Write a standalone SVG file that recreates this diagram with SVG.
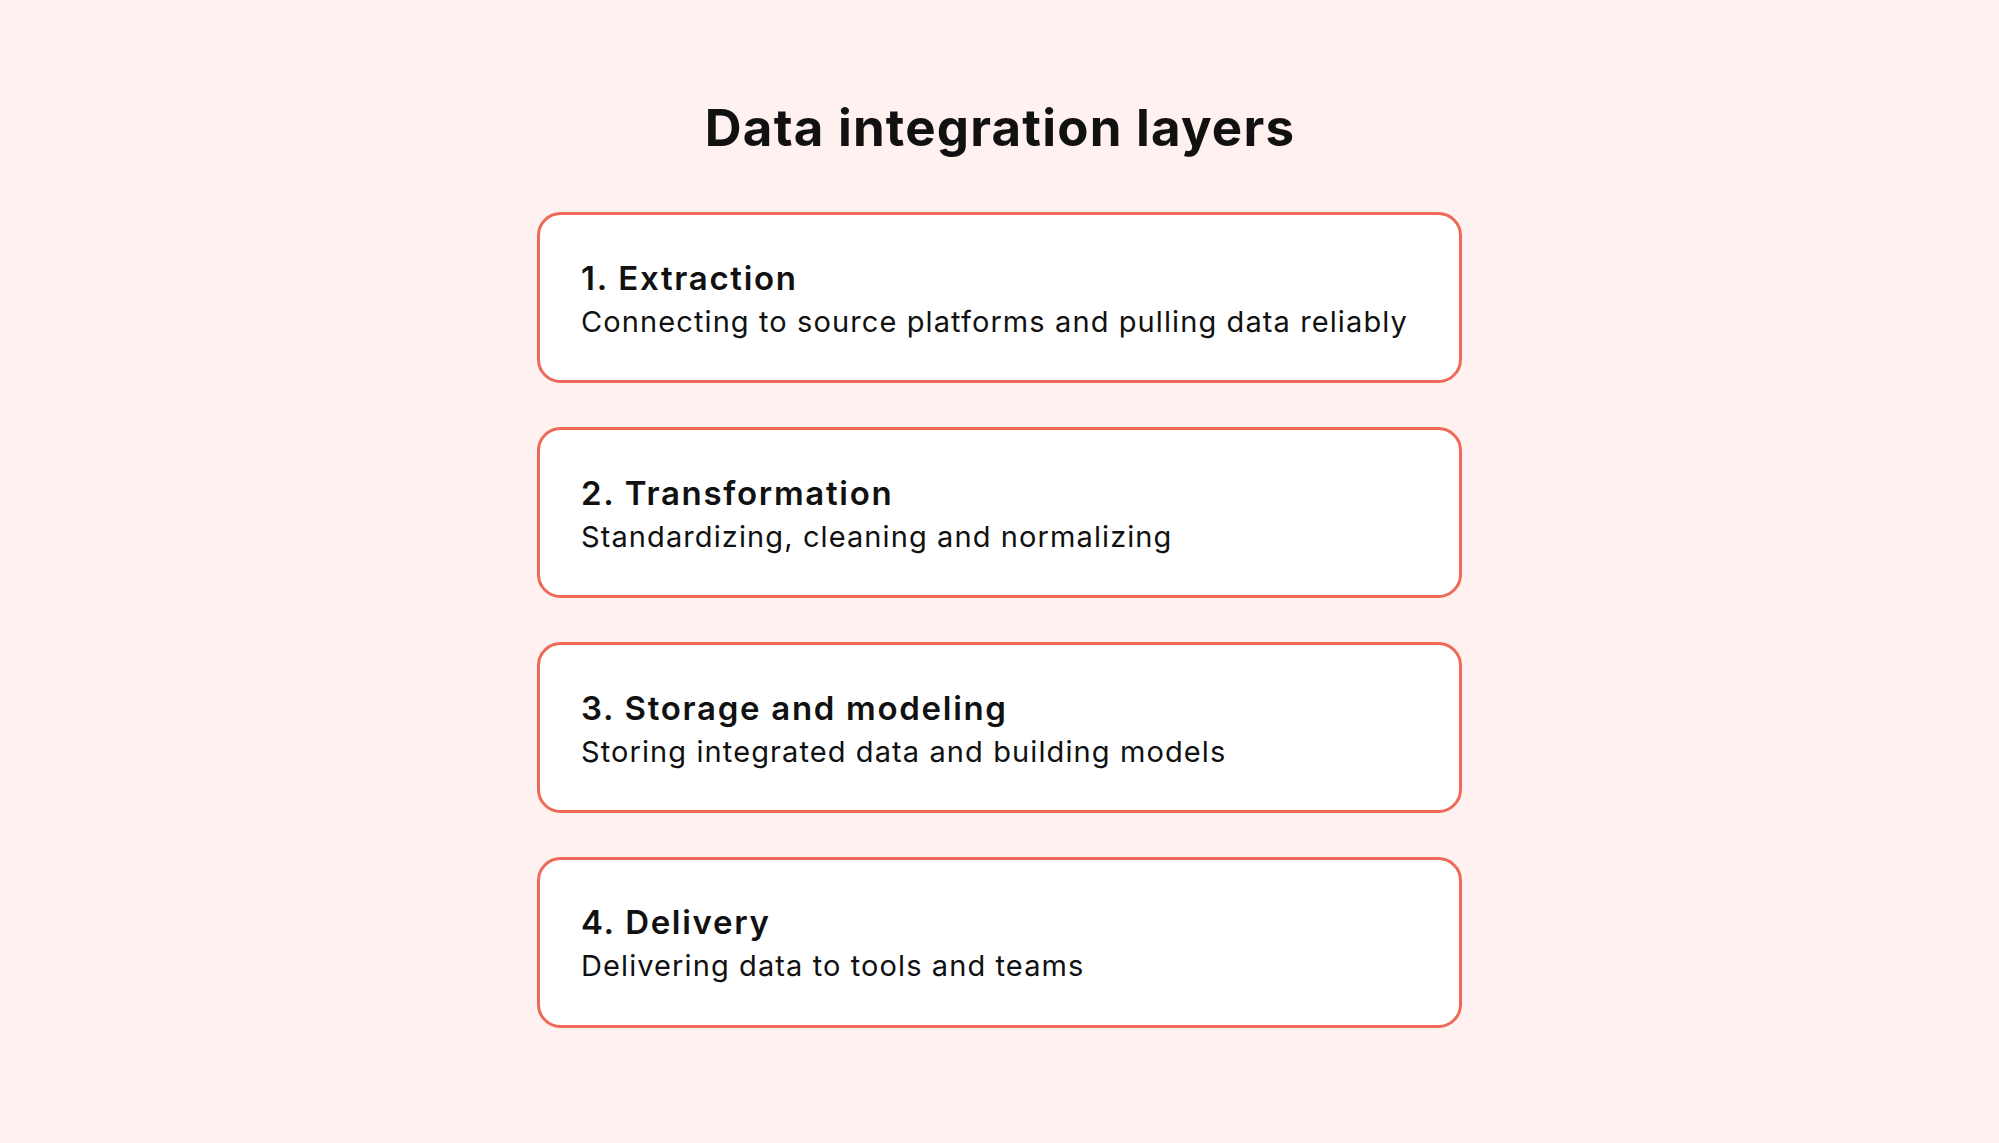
<svg xmlns="http://www.w3.org/2000/svg" width="1999" height="1143" viewBox="0 0 1999 1143">
<style>
.bg{fill:#FEF1EF}
.box{fill:#FFFFFF;stroke:#EC6A57;stroke-width:3}
.title{font-family:Inter,"Liberation Sans",sans-serif;font-weight:700;font-size:51px;letter-spacing:1.2px;fill:#111111}
.h{font-family:Inter,"Liberation Sans",sans-serif;font-weight:600;font-size:33px;letter-spacing:1.7px;fill:#111111}
.s{font-family:Inter,"Liberation Sans",sans-serif;font-weight:400;font-size:29px;letter-spacing:1.1px;fill:#111111}
</style>
<rect class="bg" x="0" y="0" width="1999" height="1143"/>
<text id="title" class="title" x="1000" y="146" text-anchor="middle">Data integration layers</text>
<g id="node1">
<rect class="box" x="538.5" y="213.5" width="922" height="168" rx="22"/>
<text class="h" x="581" y="290">1. Extraction</text>
<text class="s" x="581" y="332">Connecting to source platforms and pulling data reliably</text>
</g>
<g id="node2">
<rect class="box" x="538.5" y="428.5" width="922" height="168" rx="22"/>
<text class="h" x="581" y="505">2. Transformation</text>
<text class="s" x="581" y="547">Standardizing, cleaning and normalizing</text>
</g>
<g id="node3">
<rect class="box" x="538.5" y="643.5" width="922" height="168" rx="22"/>
<text class="h" x="581" y="720">3. Storage and modeling</text>
<text class="s" x="581" y="762">Storing integrated data and building models</text>
</g>
<g id="node4">
<rect class="box" x="538.5" y="858.5" width="922" height="168" rx="22"/>
<text class="h" x="581" y="934">4. Delivery</text>
<text class="s" x="581" y="976">Delivering data to tools and teams</text>
</g>
<g id="connectors"></g>
</svg>
